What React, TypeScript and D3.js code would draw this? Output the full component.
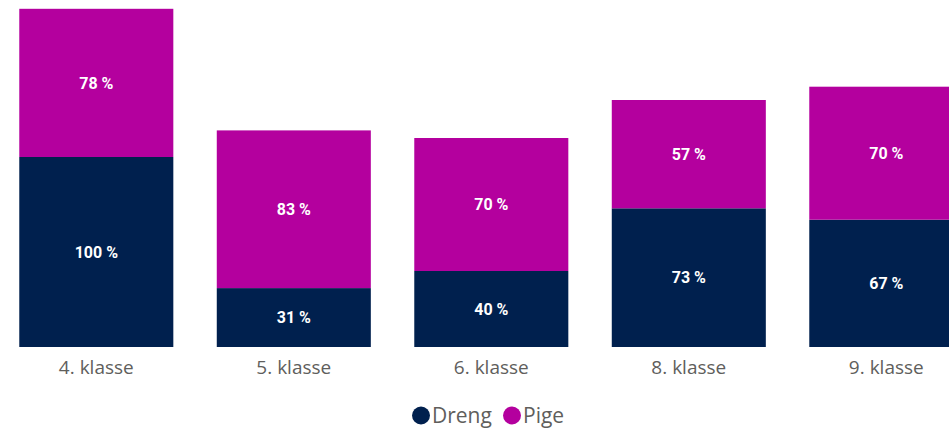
import React, { useEffect, useRef } from "react";
import * as d3 from "d3";

const categories = ["4. klasse", "5. klasse", "6. klasse", "8. klasse", "9. klasse"];
const dreng = [100, 31, 40, 73, 67];
const pige = [78, 83, 70, 57, 70];
const seriesNames = ["Dreng", "Pige"];
const colors = ["#00204E", "#B4009E"];

const width = 949;
const height = 430;

export default function App() {
    const ref = useRef<SVGSVGElement>(null);

    useEffect(() => {
        const svg = d3.select(ref.current);
        svg.selectAll("*").remove();

        const x = d3.scaleBand<string>()
            .domain(categories)
            .range([-2.45, 985.05])
            .paddingInner(0.22)
            .paddingOuter(0.11);
        const y = d3.scaleLinear()
            .domain([0, 178])
            .range([347, 8.8]);

        const rows = categories.map((c, i) => ({ cat: c, Dreng: dreng[i], Pige: pige[i] }));
        const stack = d3.stack<any>().keys(seriesNames)(rows);

        stack.forEach((layer, si) => {
            const g = svg.append("g");
            g.selectAll("rect")
                .data(layer)
                .enter()
                .append("rect")
                .attr("x", d => x(d.data.cat) as number)
                .attr("y", d => y(d[1]))
                .attr("width", x.bandwidth())
                .attr("height", d => y(d[0]) - y(d[1]))
                .attr("fill", colors[si]);
            g.selectAll("text")
                .data(layer)
                .enter()
                .append("text")
                .text(d => (d[1] - d[0]) + " %")
                .attr("x", d => (x(d.data.cat) as number) + x.bandwidth() / 2)
                .attr("y", d => (y(d[0]) + y(d[1])) / 2)
                .attr("dy", "0.36em")
                .attr("text-anchor", "middle")
                .attr("font-family", "Roboto, sans-serif")
                .attr("font-weight", "bold")
                .attr("font-size", "16px")
                .attr("fill", "white");
        });

        // category labels
        svg.append("g")
            .selectAll("text")
            .data(categories)
            .enter()
            .append("text")
            .text(d => d)
            .attr("x", d => (x(d) as number) + x.bandwidth() / 2)
            .attr("y", 374)
            .attr("text-anchor", "middle")
            .attr("font-family", "'Open Sans', sans-serif")
            .attr("font-size", "19px")
            .attr("fill", "#605E5C");

        // legend
        const legend = svg.append("g");
        const lx = [421, 512];
        seriesNames.forEach((name, i) => {
            legend.append("circle")
                .attr("cx", lx[i])
                .attr("cy", 415.5)
                .attr("r", 9)
                .attr("fill", colors[i]);
            legend.append("text")
                .text(name)
                .attr("x", lx[i] + 11)
                .attr("y", 423)
                .attr("font-family", "'Open Sans', sans-serif")
                .attr("font-size", "21px")
                .attr("fill", "#605E5C");
        });
    }, []);

    return (
        <div style={{ position: "fixed", left: 0, top: 0, width, height, overflow: "hidden", background: "white" }}>
            <svg ref={ref} width={width} height={height}></svg>
        </div>
    );
}
